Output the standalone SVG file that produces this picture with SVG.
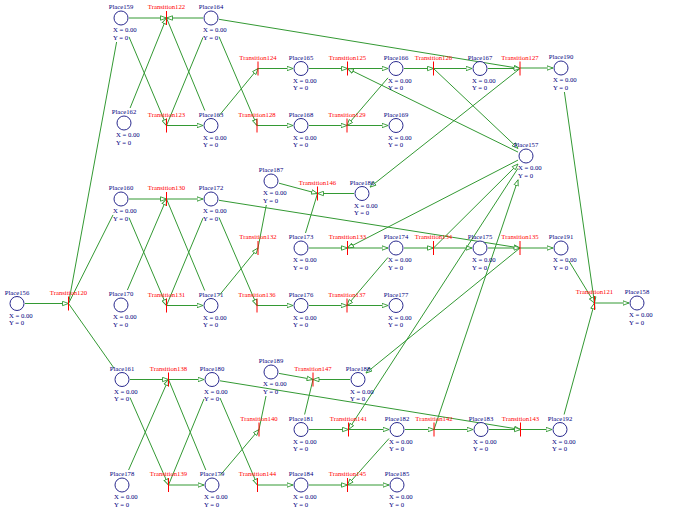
<svg xmlns="http://www.w3.org/2000/svg" width="674" height="531" viewBox="0 0 674 531">
<style>
  .arc line{stroke:#339933;stroke-width:1;fill:none}
  .arc line.a{marker-end:url(#ah)}
  .pl circle{fill:#fff;stroke:#2b2b8f;stroke-width:1}
  text{font-family:"Liberation Serif","Times New Roman",serif;font-size:6.7px}
  .pl text{fill:#000080}
  .pl text.nm{text-anchor:middle}
  .tr line{stroke:#ff0000;stroke-width:1}
  .tr text{fill:#ff0000;text-anchor:middle}
</style>
<defs>
  <marker id="ah" viewBox="0 0 7 6" refX="6.5" refY="3" markerWidth="7" markerHeight="6" markerUnits="userSpaceOnUse" orient="auto">
    <path d="M0.5,0.8 L6.5,3 L0.5,5.2 Z" fill="#fff" stroke="#339933" stroke-width="0.9"/>
  </marker>
</defs>
<rect width="674" height="531" fill="#fff"/>

<!-- arcs -->
<g id="arcs" class="arc">
  <!-- entry -->
  <line class="a" x1="25" y1="303.5" x2="68.5" y2="303.5"/>
  <line x1="68.5" y1="303.5" x2="116.6" y2="42"/>
  <line x1="68.5" y1="303.5" x2="113" y2="214.9"/>
  <line x1="68.5" y1="303.5" x2="114" y2="368.1"/>

  <!-- upper block -->
  <line class="a" x1="129" y1="18" x2="166.5" y2="18"/>
  <line class="a" x1="203" y1="18" x2="166.5" y2="18"/>
  <line class="a" x1="130.1" y1="108" x2="166.5" y2="18"/>
  <line class="a" x1="129" y1="36.9" x2="166.5" y2="125.5"/>
  <line x1="166.5" y1="18" x2="204.8" y2="110.5"/>
  <line x1="166.5" y1="125.5" x2="203" y2="37.3"/>
  <line class="a" x1="166.5" y1="125.5" x2="203" y2="125.5"/>
  <line class="a" x1="219" y1="36.7" x2="257" y2="125.5"/>
  <line class="a" x1="219" y1="115.8" x2="258" y2="68.5"/>
  <line class="a" x1="219" y1="19.3" x2="520" y2="68.5"/>
  <line class="a" x1="258" y1="68.5" x2="293" y2="68.5"/>
  <line class="a" x1="309" y1="68.5" x2="347.5" y2="68.5"/>
  <line class="a" x1="347.5" y1="68.5" x2="388" y2="68.5"/>
  <line class="a" x1="404" y1="68.5" x2="433.5" y2="68.5"/>
  <line class="a" x1="433.5" y1="68.5" x2="472" y2="68.5"/>
  <line class="a" x1="488" y1="68.5" x2="520" y2="68.5"/>
  <line class="a" x1="520" y1="68" x2="553" y2="68"/>
  <line class="a" x1="257" y1="125.5" x2="293" y2="125.5"/>
  <line class="a" x1="309" y1="125.5" x2="347" y2="125.5"/>
  <line class="a" x1="347" y1="125.5" x2="388" y2="125.5"/>
  <line class="a" x1="388" y1="77.8" x2="347" y2="125.5"/>
  <line class="a" x1="518" y1="152.1" x2="347.5" y2="68.5"/>
  <line class="a" x1="433.5" y1="68.5" x2="518" y2="148.4"/>
  <line class="a" x1="520" y1="68.5" x2="370" y2="187.1"/>

  <!-- middle block -->
  <line class="a" x1="129" y1="199" x2="166.5" y2="199"/>
  <line class="a" x1="127.4" y1="290" x2="166.5" y2="199"/>
  <line class="a" x1="129" y1="217.7" x2="166.5" y2="305.5"/>
  <line class="a" x1="166.5" y1="199" x2="203" y2="199"/>
  <line x1="166.5" y1="199" x2="204.7" y2="290.5"/>
  <line class="a" x1="166.5" y1="305.5" x2="203" y2="305.5"/>
  <line x1="166.5" y1="305.5" x2="203" y2="218.1"/>
  <line class="a" x1="219" y1="217.5" x2="257" y2="305.5"/>
  <line class="a" x1="219" y1="295.7" x2="258" y2="248"/>
  <line class="a" x1="219" y1="200.3" x2="520" y2="248"/>
  <line x1="258" y1="248" x2="266.3" y2="205"/>
  <line class="a" x1="279" y1="183.2" x2="317.5" y2="193.5"/>
  <line class="a" x1="354" y1="193.5" x2="317.5" y2="193.5"/>
  <line x1="317.5" y1="193.5" x2="305.5" y2="233"/>
  <line class="a" x1="309" y1="248" x2="347.5" y2="248"/>
  <line class="a" x1="347.5" y1="248" x2="388" y2="248"/>
  <line class="a" x1="404" y1="248" x2="433.5" y2="248"/>
  <line class="a" x1="433.5" y1="248" x2="472" y2="248"/>
  <line class="a" x1="488" y1="248" x2="520" y2="248"/>
  <line class="a" x1="520" y1="248" x2="553" y2="248"/>
  <line class="a" x1="257" y1="305.5" x2="293" y2="305.5"/>
  <line class="a" x1="309" y1="305.5" x2="347" y2="305.5"/>
  <line class="a" x1="347" y1="305.5" x2="388" y2="305.5"/>
  <line class="a" x1="388" y1="257.4" x2="347" y2="305.5"/>
  <line class="a" x1="518" y1="160.1" x2="347.5" y2="248"/>
  <line class="a" x1="433.5" y1="248" x2="518" y2="164"/>
  <line class="a" x1="520" y1="248" x2="366" y2="373"/>

  <!-- lower block -->
  <line class="a" x1="130" y1="379.5" x2="168.5" y2="379.5"/>
  <line class="a" x1="128.6" y1="470" x2="168.5" y2="379.5"/>
  <line class="a" x1="130" y1="397.6" x2="168.5" y2="485"/>
  <line class="a" x1="168.5" y1="379.5" x2="204" y2="379.5"/>
  <line x1="168.5" y1="379.5" x2="205.8" y2="470"/>
  <line class="a" x1="168.5" y1="485" x2="204" y2="485"/>
  <line x1="168.5" y1="485" x2="204" y2="398.9"/>
  <line class="a" x1="220" y1="398" x2="257.5" y2="485"/>
  <line class="a" x1="220" y1="475.6" x2="259" y2="429.5"/>
  <line class="a" x1="220" y1="380.8" x2="520.5" y2="429.5"/>
  <line x1="259" y1="429.5" x2="266" y2="396"/>
  <line class="a" x1="279" y1="373.4" x2="313" y2="379.5"/>
  <line class="a" x1="350" y1="379.5" x2="313" y2="379.5"/>
  <line x1="313" y1="379.5" x2="304.6" y2="414.5"/>
  <line class="a" x1="309" y1="429.5" x2="348.5" y2="429.5"/>
  <line class="a" x1="348.5" y1="429.5" x2="389" y2="429.5"/>
  <line class="a" x1="405" y1="429.5" x2="434" y2="429.5"/>
  <line class="a" x1="434" y1="429.5" x2="473" y2="429.5"/>
  <line class="a" x1="489" y1="429.5" x2="520.5" y2="429.5"/>
  <line class="a" x1="520.5" y1="429.5" x2="552" y2="429.5"/>
  <line class="a" x1="257.5" y1="485" x2="293" y2="485"/>
  <line class="a" x1="309" y1="485" x2="347.5" y2="485"/>
  <line class="a" x1="347.5" y1="485" x2="389" y2="485"/>
  <line class="a" x1="389" y1="438.5" x2="347.5" y2="485"/>
  <line class="a" x1="518" y1="168.3" x2="348.5" y2="429.5"/>
  <line class="a" x1="434" y1="429.5" x2="518" y2="179.8"/>

  <!-- exit -->
  <line class="a" x1="564.4" y1="92" x2="594.5" y2="303"/>
  <line class="a" x1="569" y1="261.1" x2="594.5" y2="303"/>
  <line class="a" x1="564.1" y1="414.5" x2="594.5" y2="303"/>
  <line class="a" x1="594.5" y1="303" x2="629" y2="303"/>
</g>

<!-- places -->
<g id="Place156" class="pl"><text class="nm" x="17" y="294.5">Place156</text><circle cx="17" cy="303.5" r="7"/><text x="9" y="317.5">X = 0.00</text><text x="9" y="325">Y = 0</text></g>
<g id="Place159" class="pl"><text class="nm" x="121" y="9">Place159</text><circle cx="121" cy="18" r="7"/><text x="113" y="32">X = 0.00</text><text x="113" y="39.5">Y = 0</text></g>
<g id="Place162" class="pl"><text class="nm" x="124" y="114">Place162</text><circle cx="124" cy="123" r="7"/><text x="116" y="137">X = 0.00</text><text x="116" y="144.5">Y = 0</text></g>
<g id="Place164" class="pl"><text class="nm" x="211" y="9">Place164</text><circle cx="211" cy="18" r="7"/><text x="203" y="32">X = 0.00</text><text x="203" y="39.5">Y = 0</text></g>
<g id="Place163" class="pl"><text class="nm" x="211" y="116.5">Place163</text><circle cx="211" cy="125.5" r="7"/><text x="203" y="139.5">X = 0.00</text><text x="203" y="147">Y = 0</text></g>
<g id="Place165" class="pl"><text class="nm" x="301" y="59.5">Place165</text><circle cx="301" cy="68.5" r="7"/><text x="293" y="82.5">X = 0.00</text><text x="293" y="90">Y = 0</text></g>
<g id="Place166" class="pl"><text class="nm" x="396" y="59.5">Place166</text><circle cx="396" cy="68.5" r="7"/><text x="388" y="82.5">X = 0.00</text><text x="388" y="90">Y = 0</text></g>
<g id="Place167" class="pl"><text class="nm" x="480" y="59.5">Place167</text><circle cx="480" cy="68.5" r="7"/><text x="472" y="82.5">X = 0.00</text><text x="472" y="90">Y = 0</text></g>
<g id="Place190" class="pl"><text class="nm" x="561" y="59">Place190</text><circle cx="561" cy="68" r="7"/><text x="553" y="82">X = 0.00</text><text x="553" y="89.5">Y = 0</text></g>
<g id="Place168" class="pl"><text class="nm" x="301" y="116.5">Place168</text><circle cx="301" cy="125.5" r="7"/><text x="293" y="139.5">X = 0.00</text><text x="293" y="147">Y = 0</text></g>
<g id="Place169" class="pl"><text class="nm" x="396" y="116.5">Place169</text><circle cx="396" cy="125.5" r="7"/><text x="388" y="139.5">X = 0.00</text><text x="388" y="147">Y = 0</text></g>
<g id="Place157" class="pl"><text class="nm" x="526" y="147">Place157</text><circle cx="526" cy="156" r="7"/><text x="518" y="170">X = 0.00</text><text x="518" y="177.5">Y = 0</text></g>
<g id="Place187" class="pl"><text class="nm" x="271" y="172">Place187</text><circle cx="271" cy="181" r="7"/><text x="263" y="195">X = 0.00</text><text x="263" y="202.5">Y = 0</text></g>
<g id="Place186" class="pl"><text class="nm" x="362" y="184.5">Place186</text><circle cx="362" cy="193.5" r="7"/><text x="354" y="207.5">X = 0.00</text><text x="354" y="215">Y = 0</text></g>
<g id="Place160" class="pl"><text class="nm" x="121" y="190">Place160</text><circle cx="121" cy="199" r="7"/><text x="113" y="213">X = 0.00</text><text x="113" y="220.5">Y = 0</text></g>
<g id="Place170" class="pl"><text class="nm" x="121" y="296">Place170</text><circle cx="121" cy="305" r="7"/><text x="113" y="319">X = 0.00</text><text x="113" y="326.5">Y = 0</text></g>
<g id="Place172" class="pl"><text class="nm" x="211" y="190">Place172</text><circle cx="211" cy="199" r="7"/><text x="203" y="213">X = 0.00</text><text x="203" y="220.5">Y = 0</text></g>
<g id="Place171" class="pl"><text class="nm" x="211" y="296.5">Place171</text><circle cx="211" cy="305.5" r="7"/><text x="203" y="319.5">X = 0.00</text><text x="203" y="327">Y = 0</text></g>
<g id="Place173" class="pl"><text class="nm" x="301" y="239">Place173</text><circle cx="301" cy="248" r="7"/><text x="293" y="262">X = 0.00</text><text x="293" y="269.5">Y = 0</text></g>
<g id="Place174" class="pl"><text class="nm" x="396" y="239">Place174</text><circle cx="396" cy="248" r="7"/><text x="388" y="262">X = 0.00</text><text x="388" y="269.5">Y = 0</text></g>
<g id="Place175" class="pl"><text class="nm" x="480" y="239">Place175</text><circle cx="480" cy="248" r="7"/><text x="472" y="262">X = 0.00</text><text x="472" y="269.5">Y = 0</text></g>
<g id="Place191" class="pl"><text class="nm" x="561" y="239">Place191</text><circle cx="561" cy="248" r="7"/><text x="553" y="262">X = 0.00</text><text x="553" y="269.5">Y = 0</text></g>
<g id="Place176" class="pl"><text class="nm" x="301" y="296.5">Place176</text><circle cx="301" cy="305.5" r="7"/><text x="293" y="319.5">X = 0.00</text><text x="293" y="327">Y = 0</text></g>
<g id="Place177" class="pl"><text class="nm" x="396" y="296.5">Place177</text><circle cx="396" cy="305.5" r="7"/><text x="388" y="319.5">X = 0.00</text><text x="388" y="327">Y = 0</text></g>
<g id="Place158" class="pl"><text class="nm" x="637" y="294">Place158</text><circle cx="637" cy="303" r="7"/><text x="629" y="317">X = 0.00</text><text x="629" y="324.5">Y = 0</text></g>
<g id="Place189" class="pl"><text class="nm" x="271" y="363">Place189</text><circle cx="271" cy="372" r="7"/><text x="263" y="386">X = 0.00</text><text x="263" y="393.5">Y = 0</text></g>
<g id="Place188" class="pl"><text class="nm" x="358" y="370.5">Place188</text><circle cx="358" cy="379.5" r="7"/><text x="350" y="393.5">X = 0.00</text><text x="350" y="401">Y = 0</text></g>
<g id="Place161" class="pl"><text class="nm" x="122" y="370.5">Place161</text><circle cx="122" cy="379.5" r="7"/><text x="114" y="393.5">X = 0.00</text><text x="114" y="401">Y = 0</text></g>
<g id="Place180" class="pl"><text class="nm" x="212" y="370.5">Place180</text><circle cx="212" cy="379.5" r="7"/><text x="204" y="393.5">X = 0.00</text><text x="204" y="401">Y = 0</text></g>
<g id="Place178" class="pl"><text class="nm" x="122" y="476">Place178</text><circle cx="122" cy="485" r="7"/><text x="114" y="499">X = 0.00</text><text x="114" y="506.5">Y = 0</text></g>
<g id="Place179" class="pl"><text class="nm" x="212" y="476">Place179</text><circle cx="212" cy="485" r="7"/><text x="204" y="499">X = 0.00</text><text x="204" y="506.5">Y = 0</text></g>
<g id="Place181" class="pl"><text class="nm" x="301" y="420.5">Place181</text><circle cx="301" cy="429.5" r="7"/><text x="293" y="443.5">X = 0.00</text><text x="293" y="451">Y = 0</text></g>
<g id="Place182" class="pl"><text class="nm" x="397" y="420.5">Place182</text><circle cx="397" cy="429.5" r="7"/><text x="389" y="443.5">X = 0.00</text><text x="389" y="451">Y = 0</text></g>
<g id="Place183" class="pl"><text class="nm" x="481" y="420.5">Place183</text><circle cx="481" cy="429.5" r="7"/><text x="473" y="443.5">X = 0.00</text><text x="473" y="451">Y = 0</text></g>
<g id="Place192" class="pl"><text class="nm" x="560" y="420.5">Place192</text><circle cx="560" cy="429.5" r="7"/><text x="552" y="443.5">X = 0.00</text><text x="552" y="451">Y = 0</text></g>
<g id="Place184" class="pl"><text class="nm" x="301" y="476">Place184</text><circle cx="301" cy="485" r="7"/><text x="293" y="499">X = 0.00</text><text x="293" y="506.5">Y = 0</text></g>
<g id="Place185" class="pl"><text class="nm" x="397" y="476">Place185</text><circle cx="397" cy="485" r="7"/><text x="389" y="499">X = 0.00</text><text x="389" y="506.5">Y = 0</text></g>

<!-- transitions -->
<g id="Transition120" class="tr"><text x="68.5" y="294.5">Transition120</text><line x1="68.5" y1="296.5" x2="68.5" y2="310.5"/></g>
<g id="Transition121" class="tr"><text x="594.5" y="294">Transition121</text><line x1="594.5" y1="296" x2="594.5" y2="310"/></g>
<g id="Transition122" class="tr"><text x="166.5" y="9">Transition122</text><line x1="166.5" y1="11" x2="166.5" y2="25"/></g>
<g id="Transition123" class="tr"><text x="166.5" y="116.5">Transition123</text><line x1="166.5" y1="118.5" x2="166.5" y2="132.5"/></g>
<g id="Transition124" class="tr"><text x="258" y="59.5">Transition124</text><line x1="258" y1="61.5" x2="258" y2="75.5"/></g>
<g id="Transition125" class="tr"><text x="347.5" y="59.5">Transition125</text><line x1="347.5" y1="61.5" x2="347.5" y2="75.5"/></g>
<g id="Transition126" class="tr"><text x="433.5" y="59.5">Transition126</text><line x1="433.5" y1="61.5" x2="433.5" y2="75.5"/></g>
<g id="Transition127" class="tr"><text x="520" y="59.5">Transition127</text><line x1="520" y1="61.5" x2="520" y2="75.5"/></g>
<g id="Transition128" class="tr"><text x="257" y="116.5">Transition128</text><line x1="257" y1="118.5" x2="257" y2="132.5"/></g>
<g id="Transition129" class="tr"><text x="347" y="116.5">Transition129</text><line x1="347" y1="118.5" x2="347" y2="132.5"/></g>
<g id="Transition146" class="tr"><text x="317.5" y="184.5">Transition146</text><line x1="317.5" y1="186.5" x2="317.5" y2="200.5"/></g>
<g id="Transition130" class="tr"><text x="166.5" y="190">Transition130</text><line x1="166.5" y1="192" x2="166.5" y2="206"/></g>
<g id="Transition131" class="tr"><text x="166.5" y="296.5">Transition131</text><line x1="166.5" y1="298.5" x2="166.5" y2="312.5"/></g>
<g id="Transition132" class="tr"><text x="258" y="239">Transition132</text><line x1="258" y1="241" x2="258" y2="255"/></g>
<g id="Transition133" class="tr"><text x="347.5" y="239">Transition133</text><line x1="347.5" y1="241" x2="347.5" y2="255"/></g>
<g id="Transition134" class="tr"><text x="433.5" y="239">Transition134</text><line x1="433.5" y1="241" x2="433.5" y2="255"/></g>
<g id="Transition135" class="tr"><text x="520" y="239">Transition135</text><line x1="520" y1="241" x2="520" y2="255"/></g>
<g id="Transition136" class="tr"><text x="257" y="296.5">Transition136</text><line x1="257" y1="298.5" x2="257" y2="312.5"/></g>
<g id="Transition137" class="tr"><text x="347" y="296.5">Transition137</text><line x1="347" y1="298.5" x2="347" y2="312.5"/></g>
<g id="Transition147" class="tr"><text x="313" y="370.5">Transition147</text><line x1="313" y1="372.5" x2="313" y2="386.5"/></g>
<g id="Transition138" class="tr"><text x="168.5" y="370.5">Transition138</text><line x1="168.5" y1="372.5" x2="168.5" y2="386.5"/></g>
<g id="Transition139" class="tr"><text x="168.5" y="476">Transition139</text><line x1="168.5" y1="478" x2="168.5" y2="492"/></g>
<g id="Transition140" class="tr"><text x="259" y="420.5">Transition140</text><line x1="259" y1="422.5" x2="259" y2="436.5"/></g>
<g id="Transition141" class="tr"><text x="348.5" y="420.5">Transition141</text><line x1="348.5" y1="422.5" x2="348.5" y2="436.5"/></g>
<g id="Transition142" class="tr"><text x="434" y="420.5">Transition142</text><line x1="434" y1="422.5" x2="434" y2="436.5"/></g>
<g id="Transition143" class="tr"><text x="520.5" y="420.5">Transition143</text><line x1="520.5" y1="422.5" x2="520.5" y2="436.5"/></g>
<g id="Transition144" class="tr"><text x="257.5" y="476">Transition144</text><line x1="257.5" y1="478" x2="257.5" y2="492"/></g>
<g id="Transition145" class="tr"><text x="347.5" y="476">Transition145</text><line x1="347.5" y1="478" x2="347.5" y2="492"/></g>
</svg>
